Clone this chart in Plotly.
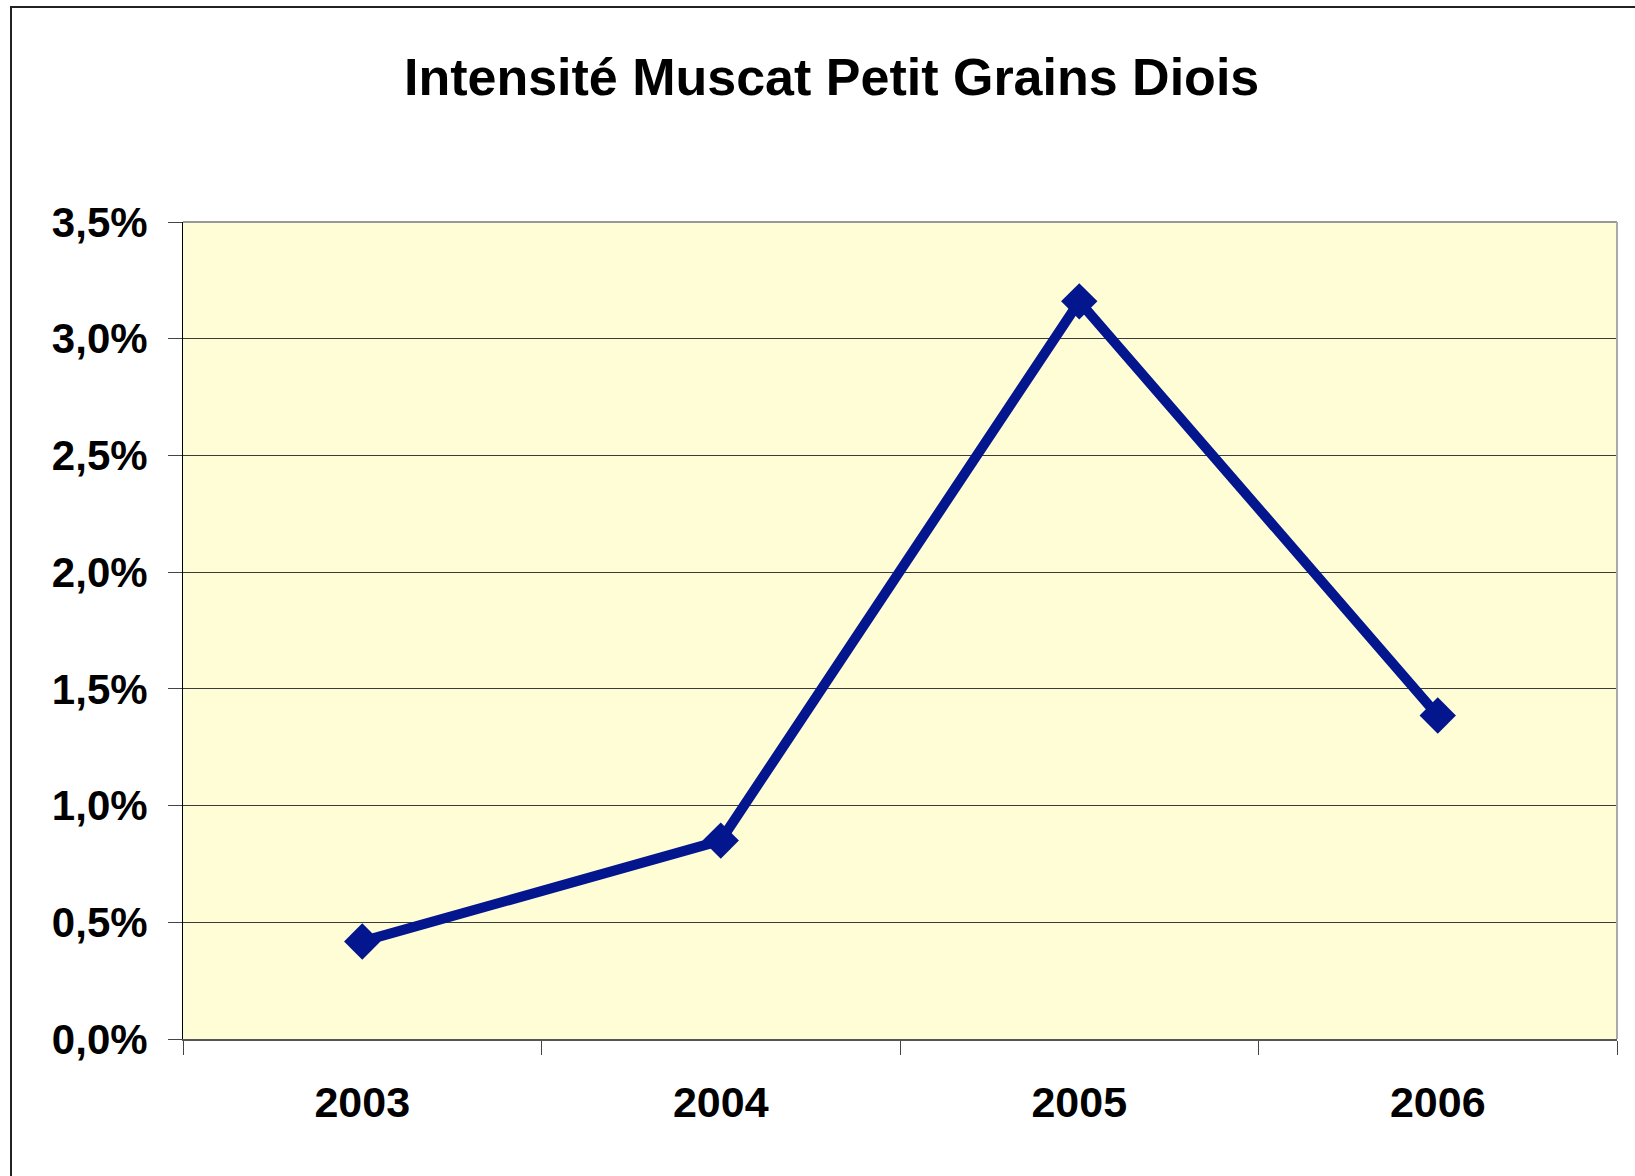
import plotly.graph_objects as go

years = ["2003", "2004", "2005", "2006"]
intensite = [0.00418, 0.00850, 0.03160, 0.01386]
y_ticks = [0, 0.005, 0.010, 0.015, 0.020, 0.025, 0.030, 0.035]

W, H = 1635, 1176
ML, MR, MT, MB = 183, 18, 222, 137
pw = W - ML - MR
ph = H - MT - MB

fig = go.Figure()
fig.add_trace(go.Scatter(
    x=years, y=intensite, mode="lines+markers",
    line=dict(color="#04168E", width=10),
    marker=dict(symbol="diamond", size=28, color="#04168E"),
    cliponaxis=False, showlegend=False, hoverinfo="skip",
))

font_family = "Liberation Sans, Arial, sans-serif"

fig.update_layout(
    width=W, height=H,
    margin=dict(l=ML, r=MR, t=MT, b=MB),
    paper_bgcolor="white",
    plot_bgcolor="#FFFDD5",
    separators=", ",
    title=dict(
        text="Intensité Muscat Petit Grains Diois",
        font=dict(family=font_family, size=52, color="black", weight="bold"),
        x=831.6 / W, xanchor="center", xref="container",
        y=1 - 77 / H, yanchor="middle", yref="container",
    ),
    xaxis=dict(
        type="category",
        tickson="boundaries",
        ticks="outside", ticklen=14, tickwidth=1, tickcolor="#444",
        showgrid=False,
        showline=True, linecolor="#555", linewidth=2,
        tickfont=dict(family=font_family, size=43, color="black", weight="bold"),
        ticklabelstandoff=24,
        range=[-0.5, 3.5],
    ),
    yaxis=dict(
        range=[0, 0.035],
        tickvals=y_ticks,
        tickformat=".1%",
        ticks="outside", ticklen=14, tickwidth=1, tickcolor="#444",
        showgrid=True, gridcolor="#3a3a3a", gridwidth=1,
        showline=True, linecolor="black", linewidth=1,
        zeroline=False,
        tickfont=dict(family=font_family, size=42, color="black", weight="bold"),
        ticklabelstandoff=12,
    ),
)

# plot-area top/right borders (gray)
fig.add_shape(type="line", xref="paper", yref="paper", x0=0, x1=1, y0=1, y1=1,
              line=dict(color="#999999", width=2), layer="above")
fig.add_shape(type="line", xref="paper", yref="paper", x0=1, x1=1, y0=0, y1=1,
              line=dict(color="#aaaaaa", width=2), layer="above")

# outer chart frame (left and top edges visible)
fx = (11 - ML) / pw
fy = (H - MB - 7) / ph
fig.add_shape(type="rect", xref="paper", yref="paper",
              x0=fx, x1=1.5, y0=-0.5, y1=fy,
              line=dict(color="#222222", width=2), layer="above")

fig.write_html(
    "out.html",
    config={"displayModeBar": False},
    post_script="document.body.style.margin='0';document.body.style.overflow='hidden';",
)
